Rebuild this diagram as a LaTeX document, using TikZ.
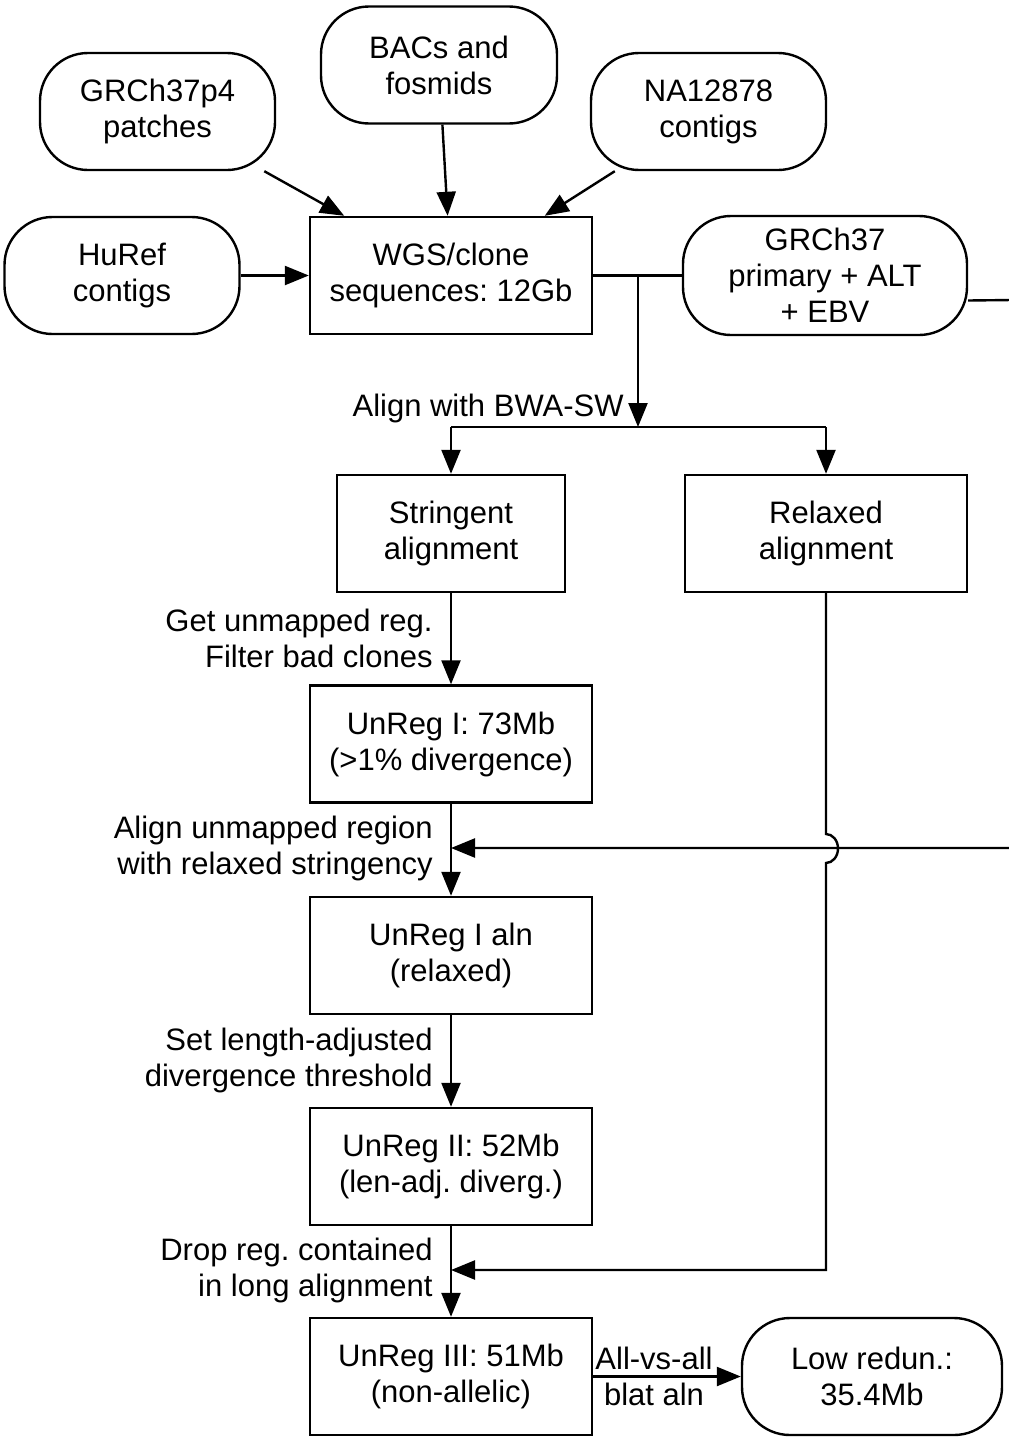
\documentclass[tikz,border=0pt]{standalone}
\usepackage{fontspec}
\setmainfont{Liberation Sans}
\usetikzlibrary{arrows.meta}
\frenchspacing
\begin{document}
\begin{tikzpicture}[x=0.5pt,y=-0.5pt,
  every node/.style={font=\fontsize{15.5}{18}\selectfont, align=center, inner sep=0pt},
  box/.style={draw, line width=1.2pt, minimum width=141pt, minimum height=58.5pt},
  term/.style={draw, line width=1.2pt, rounded corners=24pt, minimum width=117.5pt, minimum height=58.5pt},
  conn/.style={line width=1.2pt, -{Triangle[length=12pt,width=9.5pt]}},
  plain/.style={line width=1.2pt},
  lbl/.style={align=right, anchor=east}
]
\useasboundingbox (0,0) rectangle (1008,1440);

% sources
\node[term] (patch) at (157.5,111.5) {GRCh37p4\\patches};
\node[term, minimum width=118pt] (bac) at (439,65) {BACs and\\fosmids};
\node[term] (na) at (708.5,111.5) {NA12878\\contigs};
\node[term] (huref) at (122,275.5) {HuRef\\contigs};
\node[box] (wgs) at (451,275.5) {WGS/clone\\sequences: 12Gb};
\node[term, minimum width=142pt, minimum height=59.5pt] (ref) at (825,275.5) {GRCh37\\primary + ALT\\+ EBV};

% alignments
\node[box, minimum width=114pt] (str) at (451,533.5) {Stringent\\alignment};
\node[box] (rel) at (826,533.5) {Relaxed\\alignment};

% pipeline
\node[box] (u1) at (451,744) {UnReg I: 73Mb\\(>1\% divergence)};
\node[box] (u1a) at (451,955.5) {UnReg I aln\\(relaxed)};
\node[box] (u2) at (451,1166.5) {UnReg II: 52Mb\\(len-adj. diverg.)};
\node[box] (u3) at (451,1376.5) {UnReg III: 51Mb\\(non-allelic)};
\node[term, minimum width=130pt] (low) at (872,1376.5) {Low redun.:\\35.4Mb};

% helper coordinates
\coordinate (j1) at (638,275.5);
\coordinate (j2) at (638,427);
\coordinate (sp) at (451,427);
\coordinate (rp) at (826,427);
\coordinate (m1) at (451,848);
\coordinate (m3) at (451,1270);
\coordinate (hopA) at (826,834);
\coordinate (c1) at (1012,300);
\coordinate (c2) at (1012,848);
\coordinate (c3) at (826,1270);

% input arrows
\draw[conn] (patch) -- (wgs);
\draw[conn] (bac) -- (wgs);
\draw[conn] (na) -- (wgs);
\draw[conn] (huref) -- (wgs);

% WGS to reference and alignment split
\draw[plain] (wgs.east) -- (ref.west);
\draw[conn] (j1) -- (j2);
\node[lbl] (lbwa) at (624,408) {Align with BWA-SW};
\draw[plain] (sp) -- (rp);
\draw[conn] (sp) -- (str.north);
\draw[conn] (rp) -- (rel.north);

% main chain
\draw[conn] (str.south) -- (u1.north);
\node[lbl] (l1) at (433,638) {Get unmapped reg.\\Filter bad clones};
\draw[conn] (u1.south) -- (u1a.north);
\node[lbl] (l2) at (433,848) {Align unmapped region\\with relaxed stringency};
\draw[conn] (u1a.south) -- (u2.north);
\node[lbl] (l3) at (433,1060) {Set length-adjusted\\divergence threshold};
\draw[conn] (u2.south) -- (u3.north);
\node[lbl] (l4) at (433,1270) {Drop reg. contained\\in long alignment};

% reference loop
\draw[conn] ([yshift=-12.5pt]ref.east) -- (c1) -- (c2) -- (m1);

% relaxed alignment feed with hop
\draw[conn] (rel.south) -- (hopA) arc[start angle=90, end angle=-90, x radius=6pt, y radius=7.25pt] -- (c3) -- (m3);

% final step
\draw[conn] (u3.east) -- (low.west);
\node (l5) at (654,1376.5) {All-vs-all\\blat aln};
\end{tikzpicture}
\end{document}
